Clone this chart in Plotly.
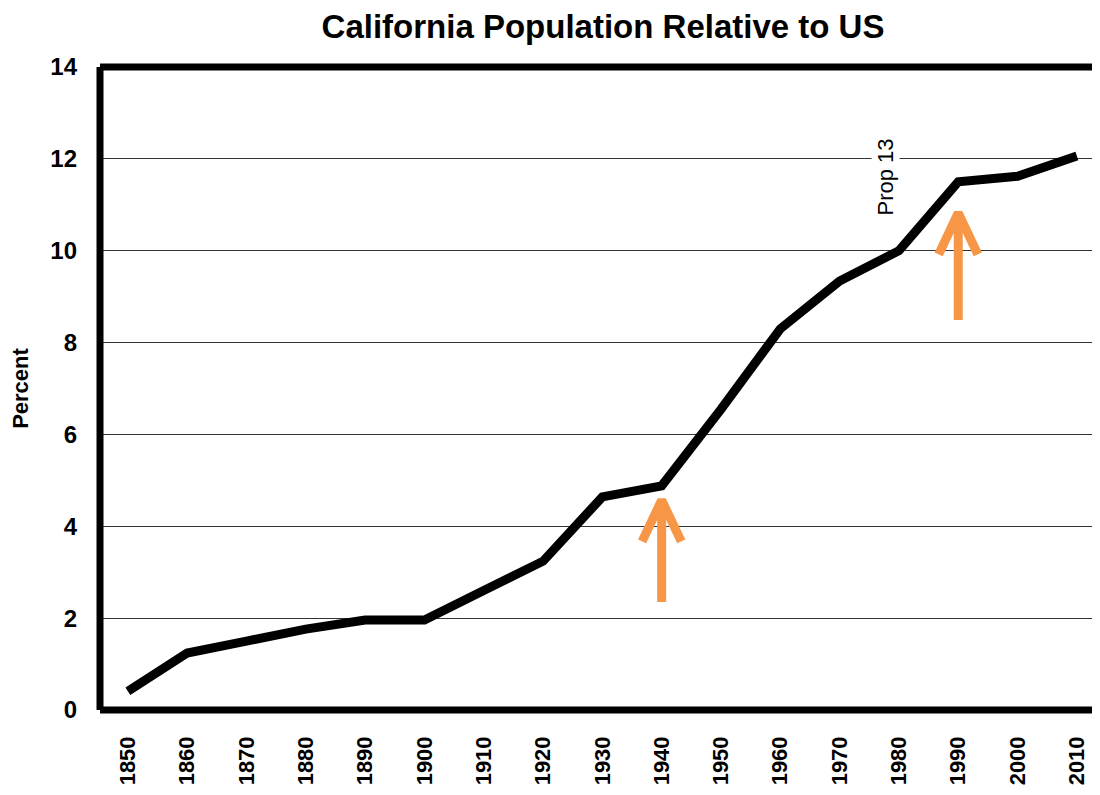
import plotly.graph_objects as go

years = [1850, 1860, 1870, 1880, 1890, 1900, 1910, 1920, 1930, 1940,
         1950, 1960, 1970, 1980, 1990, 2000, 2010]
percent = [0.41, 1.24, 1.50, 1.76, 1.96, 1.96, 2.60, 3.24, 4.64, 4.88,
           6.55, 8.30, 9.34, 10.00, 11.50, 11.62, 12.06]
y_ticks = [0, 2, 4, 6, 8, 10, 12, 14]

arrow_years = [1940, 1990]
arrow_tails = [2.35, 8.49]
arrow_tips = [4.57, 10.82]

note_text = "Prop 13"
note_year = 1977.7
note_value = 11.6

ORANGE = "#F79646"
FONT = "Liberation Sans"

fig = go.Figure()

# arrows (shaft + chevron head)
for ax, t0, t1 in zip(arrow_years, arrow_tails, arrow_tips):
    fig.add_trace(go.Scatter(x=[ax, ax], y=[t0, t1 - 0.05], mode="lines",
                             line=dict(color=ORANGE, width=9), hoverinfo="skip",
                             showlegend=False))
    fig.add_trace(go.Scatter(x=[ax - 3.3, ax, ax + 3.3], y=[t1 - 0.9, t1, t1 - 0.9],
                             mode="lines", line=dict(color=ORANGE, width=9),
                             hoverinfo="skip", showlegend=False))

fig.add_trace(go.Scatter(x=years, y=percent, mode="lines",
                         line=dict(color="black", width=9),
                         showlegend=False))

fig.add_annotation(x=note_year, y=note_value, text=note_text, textangle=-90,
                   showarrow=False, bgcolor="white",
                   font=dict(family=FONT, size=22, color="black"))

# thick frame (top, left, bottom)
frame = dict(color="black", width=7)
fig.add_shape(type="line", xref="paper", yref="paper", x0=0, x1=1, y0=1, y1=1, line=frame)
fig.add_shape(type="line", xref="paper", yref="paper", x0=0, x1=0, y0=0, y1=1, line=frame)
fig.add_shape(type="line", xref="paper", yref="paper", x0=0, x1=1, y0=0, y1=0, line=frame)

W, H = 1092, 779
fig.update_layout(
    width=W, height=H,
    margin=dict(l=92, r=0, t=59, b=77, autoexpand=False),
    paper_bgcolor="white", plot_bgcolor="white",
    title=dict(text="<b>California Population Relative to US</b>", x=595 / W, xanchor="center",
               y=1 - 18 / H, yanchor="middle",
               font=dict(family=FONT, size=33, color="black")),
    xaxis=dict(range=[1845.3, 2013.9], tickmode="array", tickvals=years,
               ticktext=[f"<b>{y}</b>" for y in years], tickangle=-90,
               showgrid=False, zeroline=False, showline=False, ticks="",
               ticklabelstandoff=21, automargin=False,
               tickfont=dict(family=FONT, size=22, color="black")),
    yaxis=dict(range=[0, 14], tickmode="array", tickvals=y_ticks,
               ticktext=[f"<b>{v}</b>" for v in y_ticks],
               showgrid=True, gridcolor="#333333", gridwidth=1,
               zeroline=False, showline=False, ticks="", ticklabelstandoff=22,
               automargin=False,
               tickfont=dict(family=FONT, size=24, color="black"),
               title=dict(text="<b>Percent</b>", standoff=22,
                          font=dict(family=FONT, size=22, color="black"))),
)

fig.write_html("out.html")
